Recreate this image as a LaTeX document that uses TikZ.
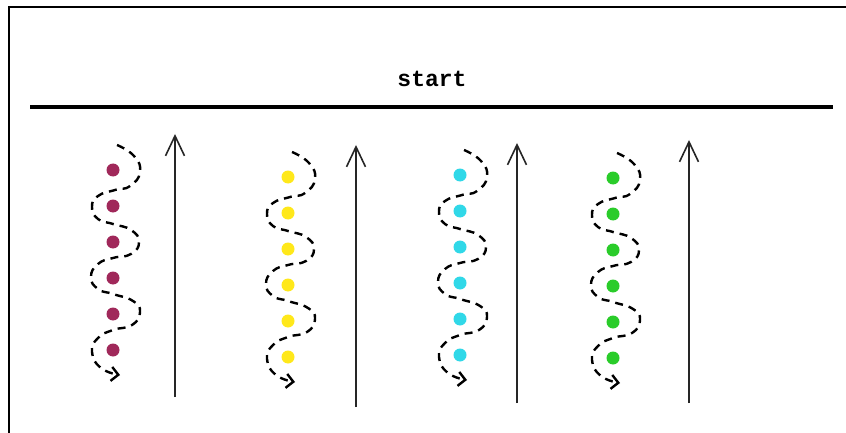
\documentclass[tikz,border=0pt]{standalone}
\usepackage{fontspec}
\newfontfamily\monofont{Liberation Mono}
\usetikzlibrary{arrows.meta}
\definecolor{cmaroon}{HTML}{A0285A}
\definecolor{cyellow}{HTML}{FFE81A}
\definecolor{ccyan}{HTML}{30D8E8}
\definecolor{cgreen}{HTML}{2ACC2A}
\tikzset{
  frameline/.style={line width=2pt,black},
  startline/.style={line width=3.2pt,black},
  uparrow/.style={line width=1.6pt,black!85,-{Straight Barb[length=20pt,width=19pt,line width=1.6pt]}},
  wave/.style={line width=2.4pt,black,dash pattern=on 8pt off 6pt,-{Straight Barb[length=7pt,width=14pt,line width=2.4pt]}},
  dot/.style={circle,inner sep=0pt,minimum size=13pt},
  label/.style={font=\monofont\bfseries\fontsize{23}{26}\selectfont,inner sep=0pt,anchor=base}
}
\begin{document}
\begin{tikzpicture}[x=1pt,y=-1pt]
\useasboundingbox (0,0) rectangle (846,433);
\fill[white] (0,0) rectangle (846,433);
% frame (top and left edges)
\coordinate (fl) at (9,433);
\coordinate (fc) at (9,7);
\coordinate (fr) at (846,7);
\draw[frameline] (fl) -- (fc) -- (fr);
% start line
\node[label] (start) at (432,87) {start};
\coordinate (sl) at (30,107);
\coordinate (sr) at (833,107);
\draw[startline] (sl) -- (sr);
% columns
\foreach \i/\cx/\cy/\ax/\at/\ab/\col in {1/113/170/175/134/397/cmaroon,2/288/177/356/145/407/cyellow,3/460/175/517/143/403/ccyan,4/613/178/689/140/403/cgreen}{
  \begin{scope}[shift={(\cx,\cy)}]
    \draw[wave] plot[smooth,tension=0.85] coordinates {(4,-25) (21,-14) (27,2) (17,16) (2,20) (-15,26) (-21,37) (-15,49) (0,54) (18,60) (26,72) (18,84) (0,88) (-15,94) (-22,107) (-15,119) (0,124) (20,131) (27,142) (19,155) (0,160) (-15,168) (-21,182) (-12,198) (7,205)};
    \foreach \k in {0,...,5}{
      \node[dot,fill=\col] (d\i\k) at (0,{\k*36}) {};
    }
  \end{scope}
  \coordinate (ab\i) at (\ax,\ab);
  \coordinate (at\i) at (\ax,\at);
  \draw[uparrow] (ab\i) -- (at\i);
}
\end{tikzpicture}
\end{document}
